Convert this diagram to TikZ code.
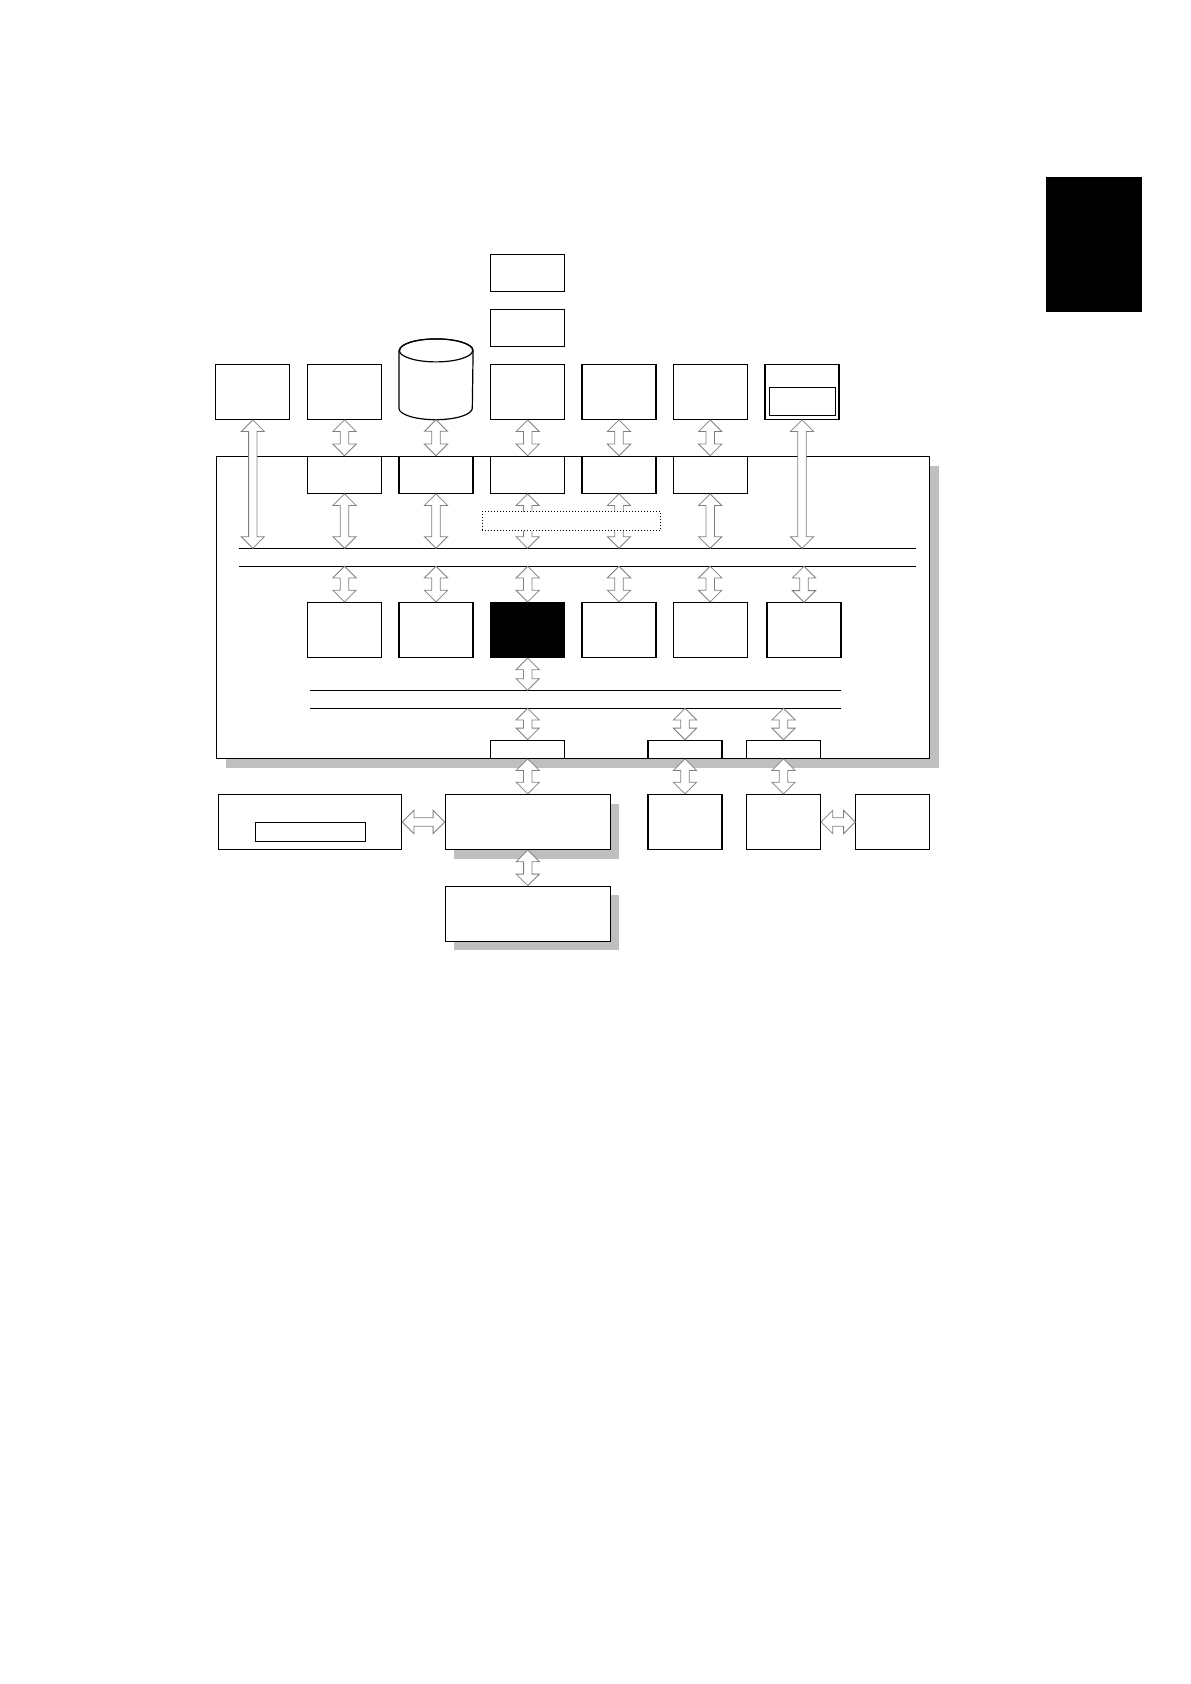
\documentclass[tikz,border=0pt]{standalone}
\usetikzlibrary{positioning, calc, shapes.geometric, shapes.arrows, shadows}

\newcommand{\dlink}[2]{%
  \path let \p1=(#1), \p2=(#2), \n1={veclen(\x2-\x1,\y2-\y1)}, \n2={atan2(\y2-\y1,\x2-\x1)} in
    (\p1) -- (\p2) node[midway, dbl, minimum height=\n1, rotate=\n2] {};}

\begin{document}
\begin{tikzpicture}[x=0.5pt, y=-0.5pt,
    box/.style={draw, fill=white, line width=0.6pt, minimum width=37pt, minimum height=27.5pt, inner sep=0pt},
    slim/.style={box, minimum height=18.5pt},
    strip/.style={box, minimum height=9pt},
    wide/.style={box, minimum width=82.5pt, drop shadow={shadow xshift=4.5pt, shadow yshift=-4.5pt, fill=black!25, opacity=1}},
    dbl/.style={double arrow, draw=gray, fill=white, line width=0.4pt, minimum width=11.3pt, double arrow head extend=3.7pt, inner sep=1.9pt},
    bus/.style={line width=0.6pt},
]
\useasboundingbox (0,0) rectangle (1190,1684);

% Draw the tab
\node[fill=black, minimum width=48pt, minimum height=67.5pt, inner sep=0pt] (tab) at (1094,244.5) {};

% Draw the frame
\node[draw, fill=white, line width=0.6pt, minimum width=356.5pt, minimum height=151pt, inner sep=0pt,
      drop shadow={shadow xshift=4.7pt, shadow yshift=-4.7pt, fill=black!25, opacity=1}] (frame) at (572.8,607.3) {};

% Draw the buses
\coordinate (busA1) at (239,548.3);
\coordinate (busA1r) at (916,548.3);
\coordinate (busA2) at (239,566.3);
\coordinate (busA2r) at (916,566.3);
\coordinate (busB1) at (310,690.3);
\coordinate (busB1r) at (840.7,690.3);
\coordinate (busB2) at (310,708.3);
\coordinate (busB2r) at (840.7,708.3);
\draw[bus] (busA1) -- (busA1r);
\draw[bus] (busA2) -- (busA2r);
\draw[bus] (busB1) -- (busB1r);
\draw[bus] (busB2) -- (busB2r);

% Draw the top column
\node[slim] (top1) at (527.7,272.7) {};
\node[slim] (top2) at (527.7,327.7) {};

% Draw the devices
\node[box] (dev1) at (252.8,391.8) {};
\node[box] (dev2) at (344.5,391.8) {};
\node[minimum width=36.7pt, minimum height=40pt, inner sep=0pt] (dev3) at (436,379.3) {};
\draw[line width=0.6pt, fill=white] ([yshift=-5.75pt]dev3.north west) -- ([yshift=5.75pt]dev3.south west)
    arc[start angle=180, end angle=360, x radius=18.35pt, y radius=5.75pt]
    -- ([yshift=-5.75pt]dev3.north east)
    arc[start angle=0, end angle=180, x radius=18.35pt, y radius=5.75pt] -- cycle;
\draw[line width=0.6pt] ([yshift=-5.75pt]dev3.north) ellipse[x radius=18.35pt, y radius=5.75pt];
\node[box] (dev4) at (527.7,391.8) {};
\node[box] (dev5) at (619,391.8) {};
\node[box] (dev6) at (710.2,391.8) {};
\node[box] (dev7) at (802,391.8) {};
\node[draw, line width=0.6pt, minimum width=33.2pt, minimum height=14.2pt, inner sep=0pt] (dev7in) at (802.5,401.5) {};

% Draw the controllers
\node[slim] (ctl2) at (344.5,474.8) {};
\node[slim] (ctl3) at (436,474.8) {};
\node[slim] (ctl4) at (527.7,474.8) {};
\node[slim] (ctl5) at (619,474.8) {};
\node[slim] (ctl6) at (710.2,474.8) {};

% Draw the modules
\node[box] (mod2) at (344.5,630) {};
\node[box] (mod3) at (436,630) {};
\node[box, fill=black] (mod4) at (527.7,630) {};
\node[box] (mod5) at (619,630) {};
\node[box] (mod6) at (710.2,630) {};
\node[box] (mod7) at (804,630.3) {};

% Draw the ports
\node[strip] (io1) at (527.7,749.3) {};
\node[strip] (io2) at (685,749.3) {};
\node[strip] (io3) at (783.5,749.3) {};

% Draw the outside units
\node[box, minimum width=91.7pt] (panel) at (310,822) {};
\node[draw, line width=0.6pt, minimum width=55pt, minimum height=9.5pt, inner sep=0pt] (panelin) at (310.5,831.8) {};
\node[wide] (host) at (527.8,822) {};
\node[wide] (store) at (527.8,913.8) {};
\node[box] (ext2) at (685,822) {};
\node[box] (ext3) at (783.5,822) {};
\node[box] (ext4) at (892.8,822) {};

% Draw the links
\dlink{dev1.south}{dev1.south |- busA1}
\dlink{dev7.south}{dev7.south |- busA1}
\foreach \i in {2,...,6} {
    \dlink{dev\i.south}{ctl\i.north}
    \dlink{ctl\i.south}{ctl\i.south |- busA1}
}
\foreach \i in {2,...,7} {
    \dlink{mod\i.north |- busA2}{mod\i.north}
}
\dlink{mod4.south}{mod4.south |- busB1}
\foreach \i in {1,2,3} {
    \dlink{io\i.north |- busB2}{io\i.north}
}
\dlink{io1.south}{host.north}
\dlink{io2.south}{ext2.north}
\dlink{io3.south}{ext3.north}
\dlink{host.south}{store.north}
\dlink{panel.east}{host.west}
\dlink{ext3.east}{ext4.west}

% Draw the shared area
\node[draw, densely dotted, fill=white, line width=0.5pt, minimum width=89.3pt, minimum height=9.5pt, inner sep=0pt] (shared) at (571.3,521.2) {};

\end{tikzpicture}
\end{document}
